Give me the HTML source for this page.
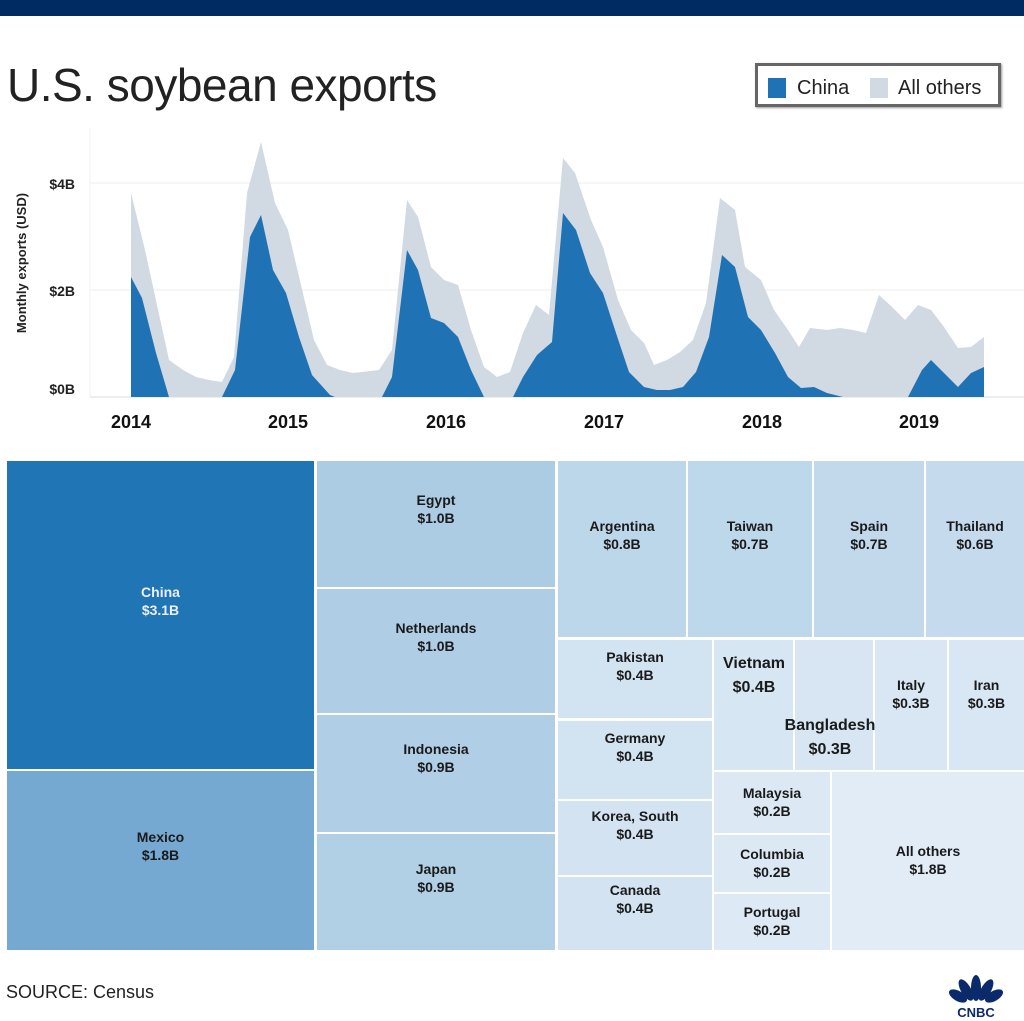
<!DOCTYPE html>
<html><head><meta charset="utf-8"><style>
body{margin:0;width:1024px;height:1021px;background:#fff;position:relative;overflow:hidden;font-family:"Liberation Sans",sans-serif}
.b{position:absolute;text-align:center;font-weight:bold;font-size:14px;line-height:18px;color:#1a1a1a;box-sizing:border-box}
.b span{position:absolute;left:0;right:0}
</style></head><body>
<div style="position:absolute;left:0;top:0;width:1024px;height:16px;background:#002a62"></div>
<div style="position:absolute;left:7px;top:58px;font-size:46px;color:#222;letter-spacing:-0.5px">U.S. soybean exports</div>
<div style="position:absolute;left:755px;top:63px;width:246px;height:44px;border:3px solid #666;box-sizing:border-box;box-shadow:1px 1px 2px #999"></div>
<div style="position:absolute;left:768px;top:78px;width:18px;height:20px;background:#1f73b4"></div>
<div style="position:absolute;left:797px;top:77px;font-size:20px;color:#222">China</div>
<div style="position:absolute;left:870px;top:78px;width:18px;height:20px;background:#d1d9e3"></div>
<div style="position:absolute;left:898px;top:77px;font-size:20px;color:#222">All others</div>
<svg style="position:absolute;left:0;top:0" width="1024" height="450">
<line x1="90" y1="183" x2="1024" y2="183" stroke="#eee"/>
<line x1="90" y1="290" x2="1024" y2="290" stroke="#eee"/>
<line x1="90" y1="128" x2="90" y2="397" stroke="#f0f0f0"/>
<line x1="90" y1="397" x2="1024" y2="397" stroke="#ddd"/>
<polygon fill="#d1d9e3" points="131,397 131,193 145,250 169,360 183,370 196,377 209,380 222,382 234,357 247,193 261,142 275,203 288,230 314,340 327,365 340,370 353,373 379,370 392,350 407,200 418,217 431,267 444,280 458,285 471,330 484,367 497,377 510,372 523,333 536,305 549,315 563,158 575,173 591,220 603,247 618,300 631,330 644,343 654,365 667,360 680,352 693,340 706,303 720,198 735,210 745,267 761,280 774,310 788,330 799,347 810,328 827,330 840,328 853,330 866,333 879,295 892,307 905,320 918,305 931,310 944,327 958,348 971,347 984,337 984,397"/>
<polygon fill="#1f73b4" points="131,397 131,277 142,298 156,353 169,397 222,397 235,370 250,237 261,215 273,270 286,293 299,337 312,375 330,395 335,397 382,397 392,377 407,250 418,270 431,318 444,323 458,337 471,370 484,397 513,397 523,377 537,355 552,342 563,213 576,230 590,273 603,293 616,333 629,372 644,387 657,390 670,390 683,387 696,372 709,337 722,255 735,267 748,317 761,330 775,353 788,377 801,388 814,387 827,393 843,397 908,397 922,370 931,360 944,373 958,387 971,373 984,367 984,397"/>
<g font-family="Liberation Sans" font-weight="bold" font-size="14" fill="#222" text-anchor="end">
<text x="75" y="189">$4B</text><text x="75" y="296">$2B</text><text x="75" y="394">$0B</text></g>
<text transform="translate(26,263) rotate(-90)" text-anchor="middle" font-family="Liberation Sans" font-weight="bold" font-size="13" fill="#222">Monthly exports (USD)</text>
<g font-family="Liberation Sans" font-weight="bold" font-size="18" fill="#111" text-anchor="middle">
<text x="131" y="428">2014</text><text x="288" y="428">2015</text><text x="446" y="428">2016</text><text x="604" y="428">2017</text><text x="762" y="428">2018</text><text x="919" y="428">2019</text></g>
</svg>

<div class="b" style="left:7px;top:461px;width:307px;height:308px;background:#2075b4;color:#eef"><span style="top:122px">China<br>$3.1B</span></div>
<div class="b" style="left:7px;top:771px;width:307px;height:179px;background:#76a9d1"><span style="top:57px">Mexico<br>$1.8B</span></div>
<div class="b" style="left:317px;top:461px;width:238px;height:126px;background:#abcce2"><span style="top:30px">Egypt<br>$1.0B</span></div>
<div class="b" style="left:317px;top:589px;width:238px;height:124px;background:#afcde4"><span style="top:30px">Netherlands<br>$1.0B</span></div>
<div class="b" style="left:317px;top:715px;width:238px;height:117px;background:#b0cee5"><span style="top:25px">Indonesia<br>$0.9B</span></div>
<div class="b" style="left:317px;top:834px;width:238px;height:116px;background:#b2d0e5"><span style="top:26px">Japan<br>$0.9B</span></div>
<div class="b" style="left:558px;top:461px;width:128px;height:176px;background:#bdd7ea"><span style="top:56px">Argentina<br>$0.8B</span></div>
<div class="b" style="left:688px;top:461px;width:124px;height:176px;background:#bed8eb"><span style="top:56px">Taiwan<br>$0.7B</span></div>
<div class="b" style="left:814px;top:461px;width:110px;height:176px;background:#c2d9ec"><span style="top:56px">Spain<br>$0.7B</span></div>
<div class="b" style="left:926px;top:461px;width:98px;height:176px;background:#c5dbed"><span style="top:56px">Thailand<br>$0.6B</span></div>
<div class="b" style="left:558px;top:640px;width:154px;height:78px;background:#d2e3f1"><span style="top:8px">Pakistan<br>$0.4B</span></div>
<div class="b" style="left:558px;top:721px;width:154px;height:78px;background:#d2e3f1"><span style="top:8px">Germany<br>$0.4B</span></div>
<div class="b" style="left:558px;top:801px;width:154px;height:74px;background:#d3e3f1"><span style="top:6px">Korea, South<br>$0.4B</span></div>
<div class="b" style="left:558px;top:877px;width:154px;height:73px;background:#d3e3f1"><span style="top:4px">Canada<br>$0.4B</span></div>
<div class="b" style="left:714px;top:640px;width:79px;height:130px;background:#d6e6f2"></div>
<div class="b" style="left:795px;top:640px;width:78px;height:130px;background:#d7e6f2"></div>
<div class="b" style="left:875px;top:640px;width:72px;height:130px;background:#d8e7f3"><span style="top:36px">Italy<br>$0.3B</span></div>
<div class="b" style="left:949px;top:640px;width:75px;height:130px;background:#d8e7f3"><span style="top:36px">Iran<br>$0.3B</span></div>
<div class="b" style="left:714px;top:652px;width:80px;font-size:16px;line-height:24px">Vietnam<br>$0.4B</div>
<div class="b" style="left:772px;top:714px;width:116px;font-size:16px;line-height:24px">Bangladesh<br>$0.3B</div>
<div class="b" style="left:714px;top:772px;width:116px;height:61px;background:#dce9f4"><span style="top:12px">Malaysia<br>$0.2B</span></div>
<div class="b" style="left:714px;top:835px;width:116px;height:57px;background:#dce9f4"><span style="top:10px">Columbia<br>$0.2B</span></div>
<div class="b" style="left:714px;top:894px;width:116px;height:56px;background:#dde9f4"><span style="top:9px">Portugal<br>$0.2B</span></div>
<div class="b" style="left:832px;top:772px;width:192px;height:178px;background:#e1ecf6"><span style="top:70px">All others<br>$1.8B</span></div>

<div style="position:absolute;left:6px;top:982px;font-size:18px;color:#222">SOURCE: Census</div>
<svg style="position:absolute;left:945px;top:968px" width="62" height="50">
<g fill="#0b2a6b">
<ellipse cx="31" cy="20" rx="5" ry="13"/>
<ellipse cx="21" cy="22" rx="5" ry="12" transform="rotate(-30 21 22)"/>
<ellipse cx="41" cy="22" rx="5" ry="12" transform="rotate(30 41 22)"/>
<ellipse cx="13" cy="28" rx="5" ry="10" transform="rotate(-60 13 28)"/>
<ellipse cx="49" cy="28" rx="5" ry="10" transform="rotate(60 49 28)"/>
</g>
<text x="31" y="49" text-anchor="middle" font-family="Liberation Sans" font-weight="bold" font-size="13" fill="#0b2a6b">CNBC</text>
</svg>
</body></html>
